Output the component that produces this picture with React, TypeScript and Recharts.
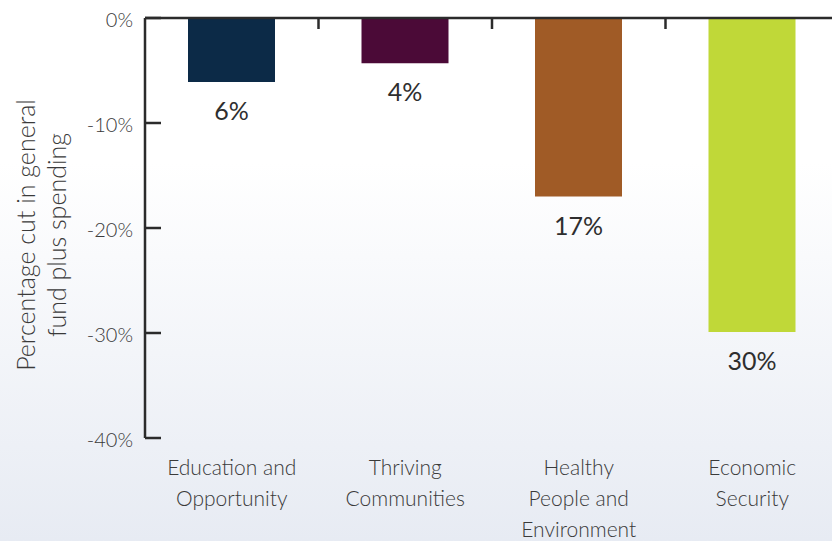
import React from "react";
import { BarChart, Bar, XAxis, YAxis, Cell, LabelList } from "recharts";

// Spending cut per priority area (negative = cut)
const categories = [
  "Education and\nOpportunity",
  "Thriving\nCommunities",
  "Healthy\nPeople and\nEnvironment",
  "Economic\nSecurity",
];
const cutValues = [-6.1, -4.3, -17, -29.9];
const cutLabels = ["6%", "4%", "17%", "30%"];
const barColors = ["#0c2a47", "#4b0a37", "#a05b26", "#c0d838"];
const yTicks = [0, -10, -20, -30, -40];

const data = categories.map((name, i) => ({
  name,
  value: cutValues[i],
  label: cutLabels[i],
}));

const FONT = "Lato, 'Open Sans', sans-serif";
const AXIS = "#2b2b2b";

const CategoryTick = (props: any) => {
  const { x, y, payload } = props;
  const lines = String(payload.value).split("\n");
  return (
    <g>
      {lines.map((line, i) => (
        <text
          key={i}
          x={x}
          y={y + 24 + i * 31}
          textAnchor="middle"
          dominantBaseline="middle"
          fontFamily={FONT}
          fontWeight={300}
          fontSize={21}
          fill="#3a3a3a"
        >
          {line}
        </text>
      ))}
    </g>
  );
};

// top axis: small tick marks on the boundaries between categories
const BoundaryTick = (props: any) => {
  const { x, y, index, width, visibleTicksCount } = props;
  if (!index) return null;
  const band = width / visibleTicksCount;
  const bx = x - band / 2;
  return <line x1={bx} x2={bx} y1={y} y2={y + 11} stroke={AXIS} strokeWidth={2.5} />;
};

const PercentTick = (props: any) => {
  const { x, y, payload } = props;
  return (
    <g>
      <text
        x={x}
        y={y + 4}
        textAnchor="end"
        dominantBaseline="middle"
        fontFamily={FONT}
        fontWeight={300}
        fontSize={20}
        fill="#3a3a3a"
      >
        {payload.value}%
      </text>
      <line x1={x + 12} x2={x + 28} y1={y} y2={y} stroke={AXIS} strokeWidth={2.5} />
    </g>
  );
};

const ValueLabel = (props: any) => {
  const { x, y, width, height, index } = props;
  const bottom = Math.max(y, y + height);
  return (
    <text
      x={x + width / 2}
      y={bottom + 32}
      textAnchor="middle"
      dominantBaseline="middle"
      fontFamily={FONT}
      fontSize={25}
      fill="#2e2e2e"
    >
      {cutLabels[index]}
    </text>
  );
};

const YTitle = () => (
  <g transform="rotate(-90, 40, 235)" fontFamily={FONT} fontWeight={300} fontSize={25} fill="#3a3a3a">
    <text x={40} y={224} textAnchor="middle" dominantBaseline="middle">
      Percentage cut in general
    </text>
    <text x={40} y={255} textAnchor="middle" dominantBaseline="middle">
      fund plus spending
    </text>
  </g>
);

export default function App() {
  return (
    <div
      style={{
        width: 832,
        height: 541,
        overflow: "hidden",
        background: "linear-gradient(to bottom, #ffffff 0%, #ffffff 30%, #e7ebf3 100%)",
      }}
    >
      <style>{"body{margin:0}"}</style>
      <BarChart
        width={839}
        height={541}
        data={data}
        margin={{ top: 0, right: 0, bottom: 0, left: 0 }}
        barSize={87}
      >
        <XAxis
          xAxisId="cat"
          dataKey="name"
          orientation="bottom"
          height={103}
          axisLine={false}
          tickLine={false}
          tick={<CategoryTick />}
          interval={0}
        />
        <XAxis
          xAxisId="top"
          dataKey="name"
          orientation="top"
          height={18}
          tickSize={0}
          tickMargin={0}
          tickLine={false}
          tick={<BoundaryTick />}
          interval={0}
          axisLine={{ stroke: AXIS, strokeWidth: 2.5 }}
        />
        <YAxis
          type="number"
          domain={[-40, 0]}
          ticks={yTicks}
          width={145}
          tickSize={0}
          tickMargin={12}
          axisLine={{ stroke: AXIS, strokeWidth: 2.5 }}
          tickLine={false}
          tick={<PercentTick />}
          interval={0}
        />
        {/* invisible twin so the top axis is bound to a series */}
        <Bar xAxisId="top" dataKey="value" fill="none" isAnimationActive={false} />
        <Bar xAxisId="cat" dataKey="value" isAnimationActive={false}>
          {data.map((_, i) => (
            <Cell key={i} fill={barColors[i]} />
          ))}
          <LabelList dataKey="label" content={<ValueLabel />} />
        </Bar>
        <YTitle />
      </BarChart>
    </div>
  );
}
